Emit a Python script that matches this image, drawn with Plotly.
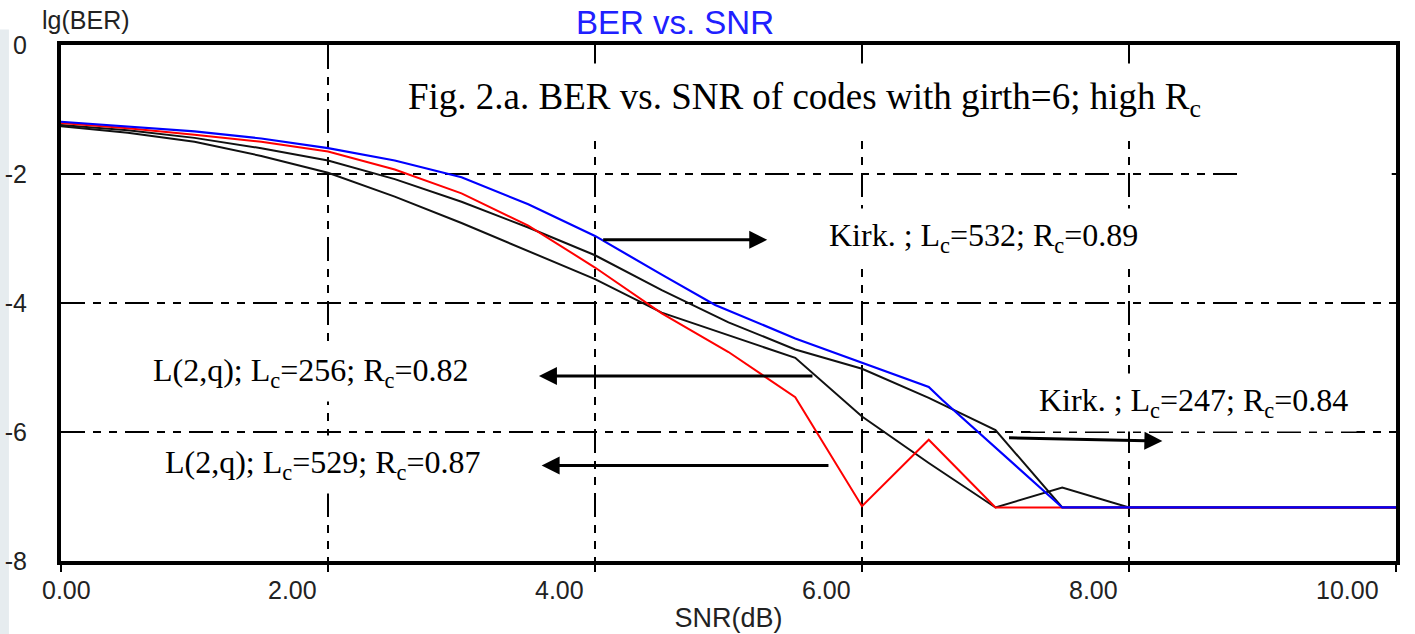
import plotly.graph_objects as go

# ---------------- data ----------------
kirk532_x = [0, 0.5, 1, 1.5, 2, 2.5, 3, 3.5, 4, 4.5, 4.9, 5.5, 6, 6.5, 6.6, 7.5, 8, 9, 10]
kirk532_y = [-1.19, -1.27, -1.34, -1.45, -1.60, -1.79, -2.05, -2.47, -2.96, -3.56, -4.03,
             -4.55, -4.92, -5.30, -5.50, -7.17, -7.17, -7.17, -7.17]

l529_x = [0, 0.5, 1, 1.5, 2, 2.5, 3, 3.5, 4, 4.5, 5, 5.5, 6, 6.5, 7, 7.5, 8, 9, 10]
l529_y = [-1.21, -1.29, -1.39, -1.50, -1.65, -1.93, -2.30, -2.80, -3.45, -4.16, -4.76,
          -5.46, -7.15, -6.12, -7.17, -7.17, -7.17, -7.17, -7.17]

kirk247_x = [0, 0.5, 1, 1.5, 2, 2.5, 3, 3.5, 4, 4.5, 5, 5.5, 6, 6.5, 7, 7.5, 8, 9, 10]
kirk247_y = [-1.24, -1.32, -1.44, -1.60, -1.79, -2.08, -2.43, -2.83, -3.26, -3.80, -4.30,
             -4.72, -5.02, -5.47, -5.97, -7.17, -7.17, -7.17, -7.17]

l256_x = [0, 0.5, 1, 1.5, 2, 2.5, 3, 3.5, 4, 4.5, 5, 5.5, 6, 6.5, 7, 7.5, 8, 9, 10]
l256_y = [-1.26, -1.36, -1.50, -1.72, -1.98, -2.35, -2.76, -3.19, -3.63, -4.15, -4.50,
          -4.85, -5.76, -6.48, -7.17, -6.86, -7.17, -7.17, -7.17]

x_ticks = [0, 2, 4, 6, 8, 10]
x_tick_text = ["0.00", "2.00", "4.00", "6.00", "8.00", "10.00"]
y_ticks = [0, -2, -4, -6, -8]
y_tick_text = ["0", "-2", "-4", "-6", "-8"]

title_text = "BER vs. SNR"
fig_caption = "Fig. 2.a. BER vs. SNR of codes with girth=6; high R<sub>c</sub>"
labels = {
    "kirk532": "Kirk. ; L<sub>c</sub>=532; R<sub>c</sub>=0.89",
    "l256": "L(2,q); L<sub>c</sub>=256; R<sub>c</sub>=0.82",
    "l529": "L(2,q); L<sub>c</sub>=529; R<sub>c</sub>=0.87",
    "kirk247": "Kirk. ; L<sub>c</sub>=247; R<sub>c</sub>=0.84",
}

# ---------------- figure ----------------
fig = go.Figure()
fig.add_trace(go.Scatter(x=l256_x, y=l256_y, mode="lines",
                         line=dict(color="#111111", width=2), name="L(2,q) 256"))
fig.add_trace(go.Scatter(x=kirk247_x, y=kirk247_y, mode="lines",
                         line=dict(color="#111111", width=2), name="Kirk 247"))
fig.add_trace(go.Scatter(x=l529_x, y=l529_y, mode="lines",
                         line=dict(color="#ff0000", width=2), name="L(2,q) 529"))
fig.add_trace(go.Scatter(x=kirk532_x, y=kirk532_y, mode="lines",
                         line=dict(color="#0000ff", width=2.2), name="Kirk 532"))

serif = "Liberation Serif, Times New Roman, serif"
sans = "Liberation Sans, Arial, sans-serif"
dash = "24px,8px,8px,8px,8px,8px"

fig.update_layout(
    width=1415, height=634,
    margin=dict(l=61, r=19, t=45, b=73, autoexpand=False),
    paper_bgcolor="#ffffff", plot_bgcolor="#ffffff",
    showlegend=False,
    font=dict(family=sans, size=25, color="#222222"),
    title=dict(text=title_text, xref="container", x=675 / 1415, xanchor="center",
               y=0.965, yanchor="middle",
               font=dict(family=sans, size=33, color="#2020ff")),
)
fig.update_xaxes(
    range=[0, 10], tickvals=x_ticks, showticklabels=False, automargin=False,
    ticks="outside", ticklen=7, tickwidth=2, tickcolor="black",
    showline=True, linewidth=4, linecolor="black", mirror=True,
    showgrid=True, gridcolor="black", gridwidth=2, griddash=dash, zeroline=False,
    title=dict(text="SNR(dB)", standoff=38, font=dict(family=sans, size=27, color="#222222")),
)
fig.update_yaxes(
    range=[-8, 0], tickvals=y_ticks, ticktext=y_tick_text, automargin=False,
    ticks="", ticklabelstandoff=25,
    showline=True, linewidth=4, linecolor="black", mirror=True,
    showgrid=True, gridcolor="black", gridwidth=2, griddash=dash, zeroline=False,
    tickfont=dict(family=sans, size=25, color="#222222"),
)

# x tick labels (placed left of their tick, as in the reference)
for i, (v, t) in enumerate(zip(x_ticks, x_tick_text)):
    if i == 0:
        anchor, shift = "left", -21
    elif i == len(x_ticks) - 1:
        anchor, shift = "right", -15
    else:
        anchor, shift = "right", -9
    fig.add_annotation(x=v, y=0, xref="x", yref="paper", text=t, showarrow=False,
                       xanchor=anchor, yanchor="middle", xshift=shift, yshift=-29,
                       font=dict(family=sans, size=25, color="#222222"))

# y axis title at top-left
fig.add_annotation(x=-0.0157, y=1, xref="paper", yref="paper", text="lg(BER)",
                   showarrow=False, xanchor="left", yanchor="middle", yshift=25,
                   font=dict(family=sans, size=25, color="#222222"))

# white blank patch at top right (as in the reference)
fig.add_shape(type="rect", xref="paper", yref="paper", x0=0.8817, x1=0.9968,
              y0=0.719, y1=0.994, fillcolor="white", line=dict(width=0), layer="above")
# thin bluish strip at the far left edge
fig.add_shape(type="rect", xref="paper", yref="paper", x0=-0.0457, x1=-0.039,
              y0=-0.1415, y1=1.03, fillcolor="#e6ecef", line=dict(width=0), layer="below")

# caption and curve labels
fig.add_annotation(x=5.57, y=-0.84, text=fig_caption, showarrow=False,
                   bgcolor="white", borderpad=12,
                   font=dict(family=serif, size=37, color="black"))
fig.add_annotation(x=6.91, y=-2.98, text=labels["kirk532"], showarrow=False,
                   bgcolor="white", borderpad=8,
                   font=dict(family=serif, size=32, color="black"))
fig.add_annotation(x=1.87, y=-5.07, text=labels["l256"], showarrow=False,
                   bgcolor="white", borderpad=8,
                   font=dict(family=serif, size=32, color="black"))
fig.add_annotation(x=1.96, y=-6.51, text=labels["l529"], showarrow=False,
                   bgcolor="white", borderpad=8,
                   font=dict(family=serif, size=32, color="black"))
fig.add_annotation(x=8.48, y=-5.55, text=labels["kirk247"], showarrow=False,
                   bgcolor="white", borderpad=8,
                   font=dict(family=serif, size=32, color="black"))

# arrows (head at x,y ; tail at ax,ay)
arrows = [
    (5.29, -3.02, 4.05, -3.02),
    (3.58, -5.13, 5.64, -5.13),
    (3.60, -6.52, 5.76, -6.52),
    (8.25, -6.14, 7.09, -6.09),
]
for hx, hy, tx, ty in arrows:
    fig.add_annotation(x=hx, y=hy, ax=tx, ay=ty, xref="x", yref="y", axref="x", ayref="y",
                       text="", showarrow=True, arrowhead=2, arrowsize=1.2, arrowwidth=3,
                       arrowcolor="black")

fig.write_html("out.html")
